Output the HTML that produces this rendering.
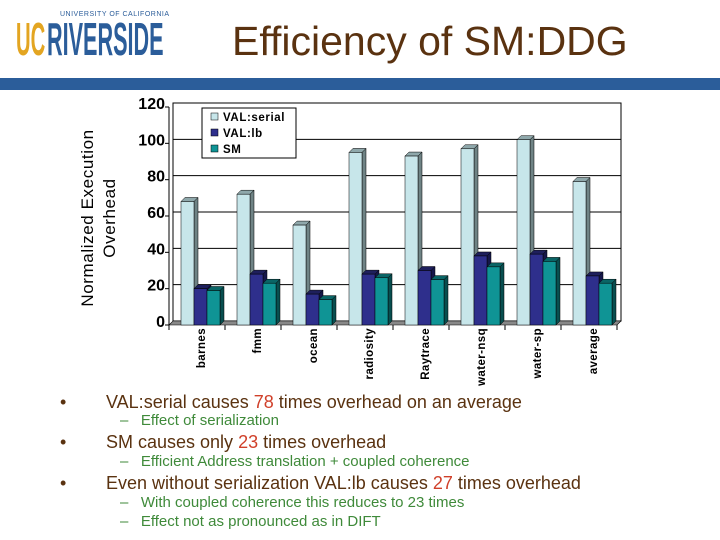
<!DOCTYPE html>
<html><head><meta charset="utf-8"><style>
body{margin:0;width:720px;height:540px;background:#fff;position:relative;overflow:hidden;font-family:"Liberation Sans",sans-serif}
.abs{position:absolute;white-space:nowrap}
.b{color:#5a3210;font-size:18px}
.s{color:#3f8a3a;font-size:15px}
.r{color:#d0402a}
</style></head><body>
<div class="abs" style="left:16px;top:10px;width:142px;height:52px">
 <span class="abs" style="left:0;top:2px;font:bold 46px 'Liberation Sans',sans-serif;color:#e3a521;transform:scaleX(.44);transform-origin:left">UC</span>
 <span class="abs" style="left:31px;top:2px;font:bold 46px 'Liberation Sans',sans-serif;color:#2b5d9a;transform:scaleX(.47);transform-origin:left">RIVERSIDE</span>
 <span class="abs" style="left:44px;top:1px;font-size:7px;color:#2b5d9a;letter-spacing:.5px">UNIVERSITY OF CALIFORNIA</span>
</div>
<div class="abs" style="left:232px;top:18px;font-size:41px;color:#5a3210">Efficiency of SM:DDG</div>
<div class="abs" style="left:0;top:78px;width:720px;height:12px;background:#2b5d9a"></div>

<svg id="chart" class="abs" style="left:0;top:0" width="720" height="390"></svg>

<div>
<div class="abs b" style="left:60px;top:392px">•<span style="position:absolute;left:46px">VAL:serial causes <span class="r">78</span> times overhead on an average</span></div>
<div class="abs s" style="left:120px;top:412px">–&nbsp;&nbsp; Effect of serialization</div>
<div class="abs b" style="left:60px;top:432px">•<span style="position:absolute;left:46px">SM causes only <span class="r">23</span> times overhead</span></div>
<div class="abs s" style="left:120px;top:453px">–&nbsp;&nbsp; Efficient Address translation + coupled coherence</div>
<div class="abs b" style="left:60px;top:473px">•<span style="position:absolute;left:46px">Even without serialization VAL:lb causes <span class="r">27</span> times overhead</span></div>
<div class="abs s" style="left:120px;top:494px">–&nbsp;&nbsp; With coupled coherence this reduces to 23 times</div>
<div class="abs s" style="left:120px;top:513px">–&nbsp;&nbsp; Effect not as pronounced as in DIFT</div>
</div>

<script>
const categories=["barnes","fmm","ocean","radiosity","Raytrace","water-nsq","water-sp","average"];
const serial=[68,72,55,95,93,97,102,79];
const lb=[20,28,17,28,30,38,39,27];
const sm=[19,23,14,26,25,32,35,23];
const ticks=[0,20,40,60,80,100,120];
const seriesNames=["VAL:serial","VAL:lb","SM"];
const colors=[["#c7e6ea","#8fa8ab","#6f8385"],["#2e2f8c","#1e1f5c","#16174a"],["#0f9495","#0a6566","#084e4f"]];
const svg=document.getElementById('chart');
const NS='http://www.w3.org/2000/svg';
const X0=173,X1=621,Y0=321,YT=103,D=4;
const y=v=>Y0-(v/120)*(Y0-YT);
const cw=(X1-X0)/categories.length;
function mk(t,a,p){const e=document.createElementNS(NS,t);for(const k in a)e.setAttribute(k,a[k]);(p||svg).appendChild(e);return e;}
let e=mk('rect',{x:X0,y:YT,width:X1-X0,height:Y0-YT,fill:'#fff',stroke:'#000','stroke-width':1});

ticks.forEach(t=>{
  let g=mk('line',{x1:X0,x2:X1,y1:y(t),y2:y(t),stroke:'#000','stroke-width':1});
  
  let tk=mk('line',{x1:X0-D-4,x2:X0-D,y1:y(t)+D,y2:y(t)+D,stroke:'#000'});
  
  let l=mk('text',{x:X0-8,y:y(t)+6,'text-anchor':'end','font-size':16,'font-weight':'bold','font-family':'Liberation Sans, sans-serif'});
  l.textContent=t;
});
let ax=mk('line',{x1:X0-D,x2:X0-D,y1:YT+D,y2:Y0+D,stroke:'#000'});

let fl=mk('polygon',{points:`${X0-D},${Y0+D} ${X1-D},${Y0+D} ${X1},${Y0} ${X0},${Y0}`,fill:'#888',stroke:'#000','stroke-width':0.6});

const bw=13;
categories.forEach((c,i)=>{
  const cx=X0+i*cw;
  [serial,lb,sm].forEach((arr,s)=>{
    const x=cx+12+s*bw-D, top=y(arr[i])+D, bot=Y0+D;
    const g=mk('g',{});
    
    
    mk('polygon',{points:`${x+bw},${top} ${x+bw+D},${top-D} ${x+bw+D},${bot-D} ${x+bw},${bot}`,fill:colors[s][2],stroke:'#000','stroke-width':0.5},g);
    mk('polygon',{points:`${x},${top} ${x+D},${top-D} ${x+bw+D},${top-D} ${x+bw},${top}`,fill:colors[s][1],stroke:'#000','stroke-width':0.5},g);
    mk('rect',{x:x,y:top,width:bw,height:bot-top,fill:colors[s][0],stroke:'#000','stroke-width':0.5},g);
  });
  let tk=mk('line',{x1:cx-D,x2:cx-D,y1:Y0+D,y2:Y0+D+5,stroke:'#000'});
  
  const lx=cx+cw/2-D+8;
  let l=mk('text',{x:0,y:0,transform:`translate(${lx},${Y0+7}) rotate(-90)`,'text-anchor':'end','font-size':11.5,'font-weight':'bold','font-family':'Liberation Sans, sans-serif','letter-spacing':'0.4'});
  l.textContent=c;
});
let tk=mk('line',{x1:X1-D,x2:X1-D,y1:Y0+D,y2:Y0+D+5,stroke:'#000'});

const lg=mk('g',{});

mk('rect',{x:202,y:108,width:94,height:50,fill:'#fff',stroke:'#000'},lg);
seriesNames.forEach((n,s)=>{
  const g=mk('g',{},lg);
  
  mk('rect',{x:211,y:113+s*16,width:7,height:7,fill:colors[s][0],stroke:'#000','stroke-width':0.5},g);
  const t=mk('text',{x:223,y:121+s*16,'font-size':11.5,'font-weight':'bold','font-family':'Liberation Sans, sans-serif','letter-spacing':'0.6'},g);
  t.textContent=n;
});
let at=mk('text',{transform:'translate(93,218) rotate(-90)','text-anchor':'middle','font-size':17,'font-family':'Liberation Sans, sans-serif','letter-spacing':'0.6'});

const t1=mk('tspan',{x:0,dy:0},at);t1.textContent='Normalized Execution';
const t2=mk('tspan',{x:0,dy:22},at);t2.textContent='Overhead';
</script>
</body></html>
